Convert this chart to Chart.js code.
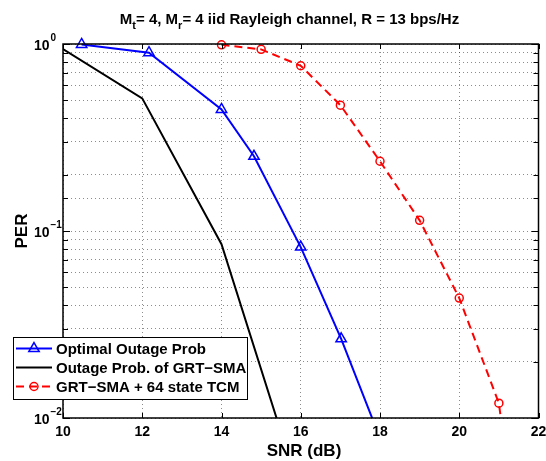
<!DOCTYPE html>
<html lang="en">
<head>
<meta charset="UTF-8">
<title>PER vs SNR</title>
<style>
  body { margin: 0; background: #fff; }
  #wrap { width: 546px; height: 461px; }
</style>
</head>
<body>
<div id="wrap"><canvas id="chart" width="546" height="461"></canvas></div>
<script src="https://cdn.jsdelivr.net/npm/chart.js@4.4.0/dist/chart.umd.min.js"></script>
<script>
// values
const optSnr = [10.47, 12.17, 14.0, 14.82, 16.0, 17.02, 18.0];
const optPer = [0.995, 0.898, 0.447, 0.251, 0.082, 0.0265, 0.0078];

const grtSnr = [10, 12, 14, 16];
const grtPer = [0.94, 0.512, 0.085, 0.0039];

const tcmSnr = [14, 15, 16, 17, 18, 19, 20, 21, 22];
const tcmPer = [0.99, 0.936, 0.765, 0.471, 0.236, 0.114, 0.0438, 0.012, 0.0003];

const xTicks = [10, 12, 14, 16, 18, 20, 22];
const yTicks = [{ v: 1, exp: '0' }, { v: 0.1, exp: '\u22121' }, { v: 0.01, exp: '\u22122' }];

const seriesNames = ['Optimal Outage Prob', 'Outage Prob. of GRT\u2212SMA', 'GRT\u2212SMA + 64 state TCM'];

const FONT = '"Liberation Sans", Arial, sans-serif';

function pts(xs, ys) {
    return xs.map((x, i) => ({ x: x, y: ys[i] }));
}

// title, tick labels, box, inward ticks and legend, MATLAB style
const matlabDecor = {
    id: 'matlabDecor',
    afterDraw(chart) {
        const ctx = chart.ctx;
        const a = chart.chartArea;
        const xs = chart.scales.x, ys = chart.scales.y;
        ctx.save();
        ctx.fillStyle = '#000';
        ctx.strokeStyle = '#000';

        // title with subscripts
        const parts = [
            ['M', false], ['t', true], ['= 4, M', false], ['r', true],
            ['= 4 iid Rayleigh channel, R = 13 bps/Hz', false]
        ];
        const mainF = 'bold 15px ' + FONT, subF = 'bold 11px ' + FONT;
        let total = 0;
        parts.forEach(p => { ctx.font = p[1] ? subF : mainF; total += ctx.measureText(p[0]).width; });
        let tx = 289.5 - total / 2;
        ctx.textBaseline = 'alphabetic';
        ctx.textAlign = 'left';
        parts.forEach(p => {
            ctx.font = p[1] ? subF : mainF;
            ctx.fillText(p[0], tx, p[1] ? 28.5 : 24);
            tx += ctx.measureText(p[0]).width;
        });

        // x tick labels
        ctx.font = 'bold 14px ' + FONT;
        ctx.textAlign = 'center';
        xTicks.forEach(v => ctx.fillText(String(v), xs.getPixelForValue(v), 436));

        // y tick labels 10^k
        yTicks.forEach(t => {
            const py = ys.getPixelForValue(t.v);
            ctx.font = 'bold 14px ' + FONT;
            ctx.textAlign = 'right';
            ctx.fillText('10', 49.5, py + 6);
            ctx.font = 'bold 10px ' + FONT;
            ctx.textAlign = 'left';
            ctx.fillText(t.exp, 50.5, py - 3);
        });

        // axis titles
        ctx.font = 'bold 17px ' + FONT;
        ctx.textAlign = 'center';
        ctx.fillText('SNR (dB)', 304, 456);
        ctx.save();
        ctx.translate(27, (a.top + a.bottom) / 2);
        ctx.rotate(-Math.PI / 2);
        ctx.fillText('PER', 0, 0);
        ctx.restore();

        // inward tick marks
        ctx.lineWidth = 1;
        ctx.beginPath();
        xTicks.forEach(v => {
            const px = Math.round(xs.getPixelForValue(v)) + 0.5;
            ctx.moveTo(px, a.bottom); ctx.lineTo(px, a.bottom - 5);
            ctx.moveTo(px, a.top); ctx.lineTo(px, a.top + 5);
        });
        ys.ticks.forEach(t => {
            const py = Math.round(ys.getPixelForValue(t.value)) + 0.5;
            const len = t.major ? 7 : 5;
            ctx.moveTo(a.left, py); ctx.lineTo(a.left + len, py);
            ctx.moveTo(a.right, py); ctx.lineTo(a.right - len, py);
        });
        ctx.stroke();

        // axes box
        ctx.lineWidth = 1.5;
        ctx.strokeRect(a.left, a.top, a.right - a.left, a.bottom - a.top);

        // legend
        const lx = 13, ly = 337, lw = 234, lh = 62;
        ctx.fillStyle = '#fff';
        ctx.fillRect(lx, ly, lw, lh);
        ctx.lineWidth = 1;
        ctx.strokeRect(lx + 0.5, ly + 0.5, lw, lh);
        const rowY = [348.5, 367.5, 386.5];
        chart.data.datasets.forEach((ds, i) => {
            const y = rowY[i];
            ctx.strokeStyle = ds.borderColor;
            ctx.lineWidth = ds.borderWidth;
            ctx.setLineDash(ds.borderDash || []);
            ctx.beginPath();
            ctx.moveTo(16, y); ctx.lineTo(52, y);
            ctx.stroke();
            ctx.setLineDash([]);
            if (ds.pointRadius > 0) {
                ctx.lineWidth = ds.pointBorderWidth;
                ctx.strokeStyle = ds.pointBorderColor;
                ctx.fillStyle = 'rgba(0,0,0,0)';
                Chart.helpers.drawPoint(ctx, {
                    pointStyle: ds.pointStyle,
                    radius: ds.pointRadius,
                    borderWidth: ds.pointBorderWidth,
                    rotation: 0
                }, 34, y);
            }
            ctx.fillStyle = '#000';
            ctx.font = 'bold 15px ' + FONT;
            ctx.textAlign = 'left';
            ctx.fillText(seriesNames[i], 56, y + 5.5);
        });
        ctx.restore();
    }
};

new Chart(document.getElementById('chart'), {
    type: 'line',
    data: {
        datasets: [
            {
                label: seriesNames[0],
                data: pts(optSnr, optPer),
                borderColor: '#0000ff',
                backgroundColor: 'rgba(0,0,0,0)',
                borderWidth: 2,
                pointStyle: 'triangle',
                pointRadius: 6,
                pointBorderWidth: 1.5,
                pointBorderColor: '#0000ff',
                pointBackgroundColor: 'rgba(0,0,0,0)',
                tension: 0,
                clip: { left: 0, right: 0, top: 8, bottom: 0 }
            },
            {
                label: seriesNames[1],
                data: pts(grtSnr, grtPer),
                borderColor: '#000000',
                backgroundColor: 'rgba(0,0,0,0)',
                borderWidth: 2,
                pointRadius: 0,
                tension: 0,
                clip: { left: 0, right: 0, top: 8, bottom: 0 }
            },
            {
                label: seriesNames[2],
                data: pts(tcmSnr, tcmPer),
                borderColor: '#ff0000',
                backgroundColor: 'rgba(0,0,0,0)',
                borderWidth: 2,
                borderDash: [8, 5],
                pointStyle: 'circle',
                pointRadius: 4,
                pointBorderWidth: 1.5,
                pointBorderColor: '#ff0000',
                pointBackgroundColor: 'rgba(0,0,0,0)',
                tension: 0,
                clip: { left: 0, right: 0, top: 8, bottom: 0 }
            }
        ]
    },
    options: {
        responsive: false,
        animation: false,
        devicePixelRatio: 1,
        layout: { padding: { left: 0, right: 5, top: 44, bottom: 0 } },
        plugins: {
            legend: { display: false },
            title: { display: false },
            tooltip: { enabled: false }
        },
        scales: {
            x: {
                type: 'linear',
                min: 10,
                max: 22,
                ticks: { stepSize: 2, display: false },
                grid: { color: 'rgba(0,0,0,0.45)', drawTicks: false, lineWidth: 1 },
                border: { display: false, dash: [1, 3] },
                afterFit: s => { s.height = 43; }
            },
            y: {
                type: 'logarithmic',
                min: 0.01,
                max: 1,
                ticks: { display: false },
                grid: { color: 'rgba(0,0,0,0.45)', drawTicks: false, lineWidth: 1 },
                border: { display: false, dash: [1, 3] },
                afterFit: s => { s.width = 63; }
            }
        }
    },
    plugins: [matlabDecor]
});
</script>
</body>
</html>
